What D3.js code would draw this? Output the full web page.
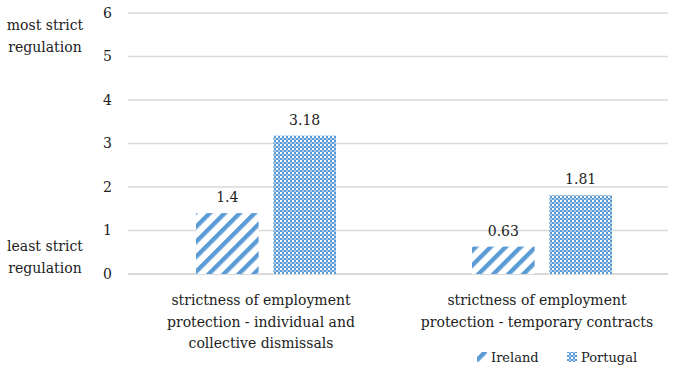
<!DOCTYPE html>
<html>
<head>
<meta charset="utf-8">
<script src="https://cdn.jsdelivr.net/npm/d3@7/dist/d3.min.js"></script>
<style>
  body { margin: 0; background: #fff; }
  svg text { font-family: "DejaVu Serif", "Liberation Serif", serif; }
</style>
</head>
<body>
<div id="chart"></div>
<script>
// data
var categories = [
  ["strictness of employment", "protection - individual and", "collective dismissals"],
  ["strictness of employment", "protection - temporary contracts"]
];
var seriesNames = ["Ireland", "Portugal"];
var ireland = [1.4, 0.63];
var portugal = [3.18, 1.81];
var yTicks = [0, 1, 2, 3, 4, 5, 6];

var svgWidth = 674;
var svgHeight = 367;
var blue = "#5b9bd5";

var svg = d3.select("#chart").append("svg")
  .attr("width", svgWidth)
  .attr("height", svgHeight)
  .attr("fill", "#222");

// patterns
var defs = svg.append("defs");
var stripe = defs.append("pattern")
  .attr("id", "stripe")
  .attr("patternUnits", "userSpaceOnUse")
  .attr("width", 10.6)
  .attr("height", 10.6)
  .attr("patternTransform", "rotate(45)");
stripe.append("rect").attr("width", 10.6).attr("height", 10.6).attr("fill", "#fff");
stripe.append("rect").attr("width", 4.4).attr("height", 10.6).attr("fill", blue);

var check = defs.append("pattern")
  .attr("id", "check")
  .attr("patternUnits", "userSpaceOnUse")
  .attr("width", 4)
  .attr("height", 4);
check.append("rect").attr("width", 4).attr("height", 4).attr("fill", blue);
check.append("rect").attr("width", 2).attr("height", 2).attr("fill", "#fff");
check.append("rect").attr("x", 2).attr("y", 2).attr("width", 2).attr("height", 2).attr("fill", "#a9cbeb");

var fills = ["url(#stripe)", "url(#check)"];

// scales
var yScale = d3.scaleLinear()
  .domain([0, 6])
  .range([274, 13]);

var xScale = d3.scaleBand()
  .domain([0, 1])
  .range([128, 680]);

var xSub = d3.scaleBand()
  .domain([0, 1])
  .range([0, 140])
  .paddingInner(0.19);

// gridlines
svg.append("g").selectAll("line")
  .data(yTicks)
  .enter()
  .append("line")
  .attr("x1", 128)
  .attr("x2", 668)
  .attr("y1", d => yScale(d))
  .attr("y2", d => yScale(d))
  .attr("stroke", "#d9d9d9")
  .attr("stroke-width", d => d === 0 ? 2 : 1.3);

// y axis tick labels
svg.append("g").selectAll("text")
  .data(yTicks)
  .enter()
  .append("text")
  .attr("x", 112)
  .attr("y", d => yScale(d))
  .attr("dy", "0.35em")
  .attr("text-anchor", "end")
  .attr("font-size", 14)
  .text(d => d);

// side labels
var side = [
  { lines: ["most strict", "regulation"], y: 30 },
  { lines: ["least strict", "regulation"], y: 251 }
];
side.forEach(function(s) {
  s.lines.forEach(function(l, i) {
    svg.append("text")
      .attr("x", 45)
      .attr("y", s.y + i * 21.5)
      .attr("text-anchor", "middle")
      .attr("font-size", 14)
      .text(l);
  });
});

// bars
var series = [ireland, portugal];
series.forEach(function(vals, s) {
  var g = svg.append("g");
  var offset = (xScale.bandwidth() - 140) / 2;
  g.selectAll("rect")
    .data(vals)
    .enter()
    .append("rect")
    .attr("x", (d, i) => xScale(i) + offset + xSub(s))
    .attr("y", d => yScale(d))
    .attr("width", xSub.bandwidth())
    .attr("height", d => yScale(0) - yScale(d))
    .attr("fill", fills[s]);
  g.selectAll("text")
    .data(vals)
    .enter()
    .append("text")
    .attr("x", (d, i) => xScale(i) + offset + xSub(s) + xSub.bandwidth() / 2)
    .attr("y", d => yScale(d) - 11)
    .attr("text-anchor", "middle")
    .attr("font-size", 14)
    .text(d => d);
});

// category labels
categories.forEach(function(lines, i) {
  lines.forEach(function(l, j) {
    svg.append("text")
      .attr("x", xScale(i) + xScale.bandwidth() / 2 - 5)
      .attr("y", 305 + j * 21.5)
      .attr("text-anchor", "middle")
      .attr("font-size", 14)
      .text(l);
  });
});

// legend
var legendX = [477, 567];
seriesNames.forEach(function(name, i) {
  var lg = svg.append("g").attr("transform", `translate(${legendX[i]}, 357)`);
  lg.append("rect")
    .attr("x", 0)
    .attr("y", -5)
    .attr("width", 10)
    .attr("height", 10)
    .attr("fill", fills[i]);
  lg.append("text")
    .attr("x", 14)
    .attr("y", 4.5)
    .attr("font-size", 13)
    .text(name);
});
</script>
</body>
</html>
